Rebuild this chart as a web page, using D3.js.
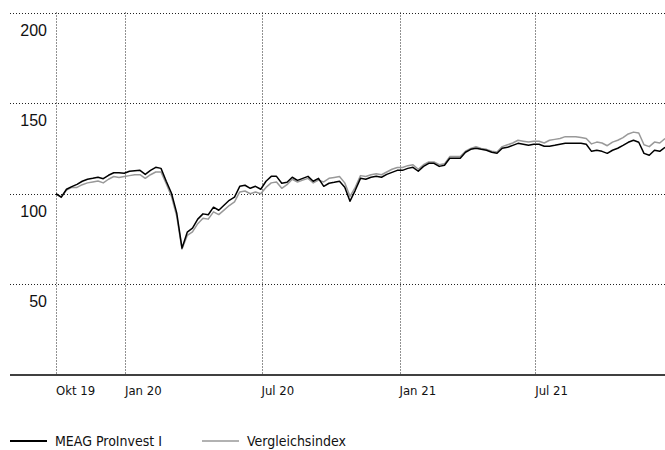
<!DOCTYPE html>
<html>
<head>
<meta charset="utf-8">
<script src="https://cdn.jsdelivr.net/npm/d3@7"></script>
<style>
    body { margin: 0; background: #fff; }
    svg { display: block; }
    .narrow { font-family: "Liberation Sans Narrow", "DejaVu Sans Condensed", "Liberation Sans", sans-serif; }
    .ylab { font-family: "Liberation Sans", "Noto Sans", sans-serif; font-size: 16px; fill: #111; }
    .grid { stroke: #222; stroke-width: 1; stroke-dasharray: 1,2; fill: none; }
</style>
</head>
<body>
<div id="chart"></div>
<script>
// --- Chart data (weekly readings, indexed to 100) ---
const dates = [
    '2019-10-01','2019-10-08','2019-10-15','2019-10-22','2019-10-29',
    '2019-11-05','2019-11-12','2019-11-19','2019-11-26',
    '2019-12-03','2019-12-10','2019-12-17','2019-12-24','2019-12-31',
    '2020-01-07','2020-01-14','2020-01-21','2020-01-28',
    '2020-02-04','2020-02-11','2020-02-18','2020-02-25',
    '2020-03-03','2020-03-10','2020-03-17','2020-03-24','2020-03-31',
    '2020-04-07','2020-04-14','2020-04-21','2020-04-28',
    '2020-05-05','2020-05-12','2020-05-19','2020-05-26',
    '2020-06-02','2020-06-09','2020-06-16','2020-06-23','2020-06-30',
    '2020-07-07','2020-07-14','2020-07-21','2020-07-28',
    '2020-08-04','2020-08-11','2020-08-18','2020-08-25',
    '2020-09-01','2020-09-08','2020-09-15','2020-09-22','2020-09-29',
    '2020-10-06','2020-10-13','2020-10-20','2020-10-27',
    '2020-11-03','2020-11-10','2020-11-17','2020-11-24',
    '2020-12-01','2020-12-08','2020-12-15','2020-12-22','2020-12-29',
    '2021-01-05','2021-01-12','2021-01-19','2021-01-26',
    '2021-02-02','2021-02-09','2021-02-16','2021-02-23',
    '2021-03-02','2021-03-09','2021-03-16','2021-03-23','2021-03-30',
    '2021-04-06','2021-04-13','2021-04-20','2021-04-27',
    '2021-05-04','2021-05-11','2021-05-18','2021-05-25',
    '2021-06-01','2021-06-08','2021-06-15','2021-06-22','2021-06-29',
    '2021-07-06','2021-07-13','2021-07-20','2021-07-27',
    '2021-08-03','2021-08-10','2021-08-17','2021-08-24','2021-08-31',
    '2021-09-07','2021-09-14','2021-09-21','2021-09-28',
    '2021-10-05','2021-10-12','2021-10-19','2021-10-26',
    '2021-11-02','2021-11-09','2021-11-16','2021-11-23','2021-11-30',
    '2021-12-07','2021-12-14','2021-12-21'
];

const fundValues = [
    100.0, 98.1, 102.5, 103.9, 105.2,
    106.9, 108.0, 108.5, 109.1,
    108.3, 110.2, 111.6, 111.6, 111.3,
    112.4, 112.7, 112.9, 110.7,
    112.9, 114.6, 114.0, 106.9,
    100.3, 89.3, 70.0, 78.8, 81.0,
    86.0, 88.9, 88.4, 92.6,
    90.9, 93.7, 96.4, 98.1,
    104.1, 104.7, 103.0, 104.1, 102.5,
    106.9, 109.6, 109.6, 105.8,
    106.3, 109.1, 107.4, 108.5,
    109.6, 106.9, 108.5, 104.1, 105.8,
    106.3, 106.9, 103.6, 95.9,
    101.9, 108.5, 108.0, 109.1,
    109.6, 109.1, 110.7, 111.8, 112.9,
    112.9, 114.0, 114.6, 112.4,
    115.1, 116.8, 116.8, 115.1,
    115.7, 119.6, 119.6, 119.6, 122.9,
    124.5, 125.1, 124.5, 124.0,
    122.9, 122.3, 125.1, 125.6,
    126.7, 127.8, 127.3, 126.7, 127.3,
    127.3, 126.2, 126.2, 126.7,
    127.3, 127.8, 127.8, 127.8, 127.8,
    127.3, 123.4, 124.0, 123.4,
    122.3, 124.0, 125.1, 126.7,
    128.4, 129.5, 128.4, 122.3, 121.2,
    124.0, 123.4, 125.6
];

const indexValues = [
    100.0, 98.0, 102.0, 103.5, 103.5,
    105.0, 106.0, 106.5, 107.0,
    106.0, 108.0, 109.5, 109.0, 109.5,
    110.0, 110.5, 110.5, 108.5,
    110.5, 112.0, 112.0, 105.5,
    98.5, 87.5, 69.5, 77.0, 79.0,
    83.5, 86.5, 86.0, 90.0,
    88.5, 91.0, 93.5, 95.5,
    101.0, 101.5, 100.0, 101.0, 100.0,
    103.5, 106.0, 106.5, 103.0,
    105.0, 108.0, 106.5, 107.5,
    108.5, 106.0, 107.5, 106.5, 108.5,
    109.0, 109.5, 106.0, 98.5,
    103.5, 110.0, 109.5, 110.5,
    111.0, 110.5, 112.0, 113.5, 114.5,
    114.5, 115.5, 116.0, 113.5,
    116.0, 117.5, 117.5, 116.0,
    116.5, 120.5, 120.5, 120.5, 123.5,
    125.0, 126.0, 125.0, 124.5,
    123.5, 123.0, 126.0, 127.0,
    128.0, 129.5, 129.0, 128.5, 129.0,
    129.0, 128.0, 129.5, 130.0,
    130.5, 131.5, 131.5, 131.5, 131.0,
    130.5, 127.5, 128.5, 128.0,
    126.5, 128.5, 129.5, 131.0,
    133.0, 134.0, 133.5, 127.0, 126.0,
    128.5, 128.0, 130.5
];

const yTicks = [50, 100, 150, 200];
const xTickDates = ['2019-10-01', '2020-01-01', '2020-07-01', '2021-01-01', '2021-07-01'];
const xTickLabels = ['Okt 19', 'Jan 20', 'Jul 20', 'Jan 21', 'Jul 21'];
const seriesNames = ['MEAG ProInvest I', 'Vergleichsindex'];
const seriesColors = ['#000000', '#999999'];

// --- Drawing ---
const width = 665, height = 450;
const parse = d3.timeParse('%Y-%m-%d');

const svg = d3.select('#chart').append('svg')
    .attr('width', width)
    .attr('height', height);

const x = d3.scaleTime()
    .domain([parse('2019-10-01'), parse('2021-12-21')])
    .range([56, 665]);

const y = d3.scaleLinear()
    .domain([0, 200])
    .range([375, 12.5]);

// horizontal dotted gridlines + labels under them
const gridY = svg.append('g');
gridY.selectAll('line').data(yTicks).join('line')
    .attr('class', 'grid')
    .attr('x1', 10).attr('x2', width)
    .attr('y1', d => Math.round(y(d)) + 0.5)
    .attr('y2', d => Math.round(y(d)) + 0.5);
gridY.selectAll('text').data(yTicks).join('text')
    .attr('class', 'ylab')
    .attr('text-anchor', 'end')
    .attr('x', 47)
    .attr('y', d => y(d) + 23)
    .text(d => d);

// vertical dotted gridlines
const xTicks = xTickDates.map(parse);
svg.append('g').selectAll('line').data(xTicks).join('line')
    .attr('class', 'grid')
    .attr('x1', d => Math.round(x(d)) + 0.5)
    .attr('x2', d => Math.round(x(d)) + 0.5)
    .attr('y1', y(200)).attr('y2', y(0));

// base axis
svg.append('line')
    .attr('x1', 10).attr('x2', width)
    .attr('y1', y(0)).attr('y2', y(0))
    .attr('stroke', '#000').attr('stroke-width', 1.6);

svg.append('g').selectAll('text').data(xTicks).join('text')
    .attr('class', 'narrow')
    .attr('x', d => x(d))
    .attr('y', 395)
    .attr('font-size', 13)
    .attr('fill', '#111')
    .text((d, i) => xTickLabels[i]);

// series lines
const points = dates.map((d, i) => ({ date: parse(d), fund: fundValues[i], index: indexValues[i] }));

const line = key => d3.line()
    .x(d => x(d.date))
    .y(d => y(d[key]));

svg.append('path')
    .datum(points)
    .attr('fill', 'none')
    .attr('stroke', seriesColors[1])
    .attr('stroke-width', 1.5)
    .attr('stroke-linejoin', 'round')
    .attr('d', line('index'));

svg.append('path')
    .datum(points)
    .attr('fill', 'none')
    .attr('stroke', seriesColors[0])
    .attr('stroke-width', 1.5)
    .attr('stroke-linejoin', 'round')
    .attr('d', line('fund'));

// legend
const legendX = [10, 202];
const legend = svg.append('g').selectAll('g').data(seriesNames).join('g')
    .attr('transform', (d, i) => `translate(${legendX[i]},441)`);
legend.append('line')
    .attr('x1', 0).attr('x2', 37)
    .attr('stroke', (d, i) => seriesColors[i])
    .attr('stroke-width', (d, i) => i === 0 ? 2 : 1.5);
legend.append('text')
    .attr('class', 'narrow')
    .attr('x', 45)
    .attr('y', 5)
    .attr('font-size', 14)
    .attr('fill', '#111')
    .text(d => d);
</script>
</body>
</html>
